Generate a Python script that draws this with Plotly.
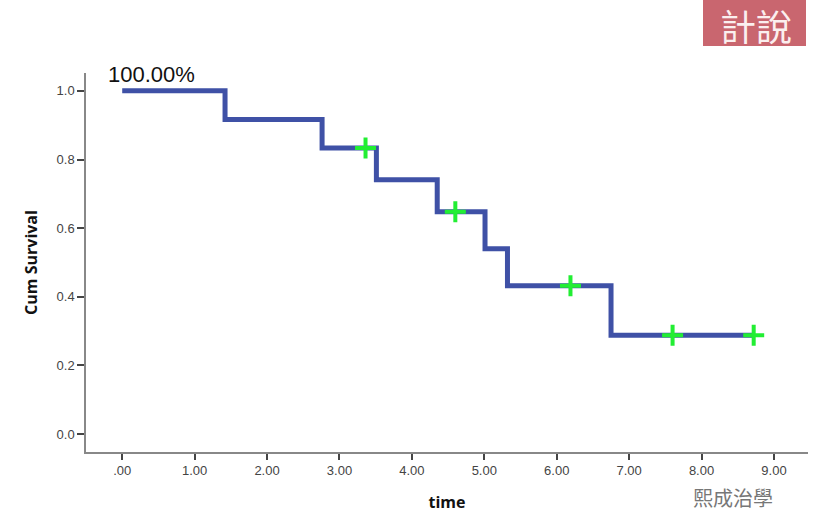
import plotly.graph_objects as go

# Kaplan-Meier step data
step_times = [0.0, 1.42, 2.76, 3.51, 4.35, 5.01, 5.32, 6.75, 8.72]
step_surv = [1.0, 0.9167, 0.8333, 0.7407, 0.6481, 0.5401, 0.4321, 0.2881, 0.2881]
censor_times = [3.36, 4.60, 6.19, 7.60, 8.72]
censor_surv = [0.8333, 0.6481, 0.4321, 0.2881, 0.2881]

x_tickvals = [0, 1, 2, 3, 4, 5, 6, 7, 8, 9]
x_ticktext = [".00", "1.00", "2.00", "3.00", "4.00", "5.00", "6.00", "7.00", "8.00", "9.00"]
y_tickvals = [0.0, 0.2, 0.4, 0.6, 0.8, 1.0]
y_ticktext = ["0.0", "0.2", "0.4", "0.6", "0.8", "1.0"]

L, R, T, B = 86, 808, 73, 452
PW, PH = R - L, B - T


def px(x):
    return (x - L) / PW


def py(y):
    return (B - y) / PH


fig = go.Figure()
fig.add_trace(go.Scatter(
    x=step_times, y=step_surv, mode="lines", line_shape="hv",
    line=dict(color="#3F51A6", width=5), showlegend=False, hoverinfo="skip"))
fig.add_trace(go.Scatter(
    x=censor_times, y=censor_surv, mode="markers",
    marker=dict(symbol="cross-thin", size=15, line=dict(color="#22EE33", width=4), color="#22EE33"),
    showlegend=False))

fig.add_annotation(x=0.0, y=1.0, xref="x", yref="y", text="100.00%", showarrow=False,
                   xanchor="center", yanchor="bottom", xshift=29, yshift=2,
                   font=dict(family="Liberation Sans, Arial", size=22, color="#111111"))

# logo box top-right
fig.add_shape(type="rect", xref="paper", yref="paper", x0=px(703), x1=px(806),
              y0=py(46), y1=py(-2), fillcolor="#C9666F", line=dict(width=0), layer="above")
fig.add_annotation(xref="paper", yref="paper", x=px(756), y=py(25), text="計說",
                   xanchor="center", yanchor="middle",
                   showarrow=False, font=dict(family="Noto Sans CJK TC", size=36, color="#FBEFEF"))
fig.add_annotation(xref="paper", yref="paper", x=px(733), y=py(497), text="熙成治學",
                   xanchor="center", yanchor="middle",
                   showarrow=False, font=dict(family="Noto Sans CJK TC", size=20, color="#777777"))

tickfont = dict(family="Liberation Sans, Arial", size=13, color="#444444")
titlefont = dict(family="Open Sans, Arial", size=16, color="#111111")
fig.update_xaxes(range=[-0.5, 9.47], tickvals=x_tickvals, ticktext=x_ticktext, automargin=False,
                 showgrid=False, zeroline=False, showline=True, linecolor="#888888", linewidth=1.5,
                 ticks="outside", ticklen=6, tickwidth=1.5, tickcolor="#444444", tickfont=tickfont,
                 title=dict(text="<b>time</b>", font=titlefont, standoff=19),
                 fixedrange=True)
fig.update_yaxes(range=[-0.052, 1.052], tickvals=y_tickvals, ticktext=y_ticktext, automargin=False,
                 showgrid=False, zeroline=False, showline=True, linecolor="#888888", linewidth=1.5,
                 ticks="outside", ticklen=7, tickwidth=1.5, tickcolor="#444444", tickfont=tickfont,
                 title=dict(text="<b>Cum Survival</b>", font=titlefont, standoff=15),
                 fixedrange=True)
fig.update_layout(width=829, height=517, margin=dict(l=L, r=829 - R, t=T, b=517 - B),
                  plot_bgcolor="white", paper_bgcolor="white")
fig.write_html("out.html", config={"displayModeBar": False},
               post_script="document.body.style.margin='0px';document.body.style.overflow='hidden';")
